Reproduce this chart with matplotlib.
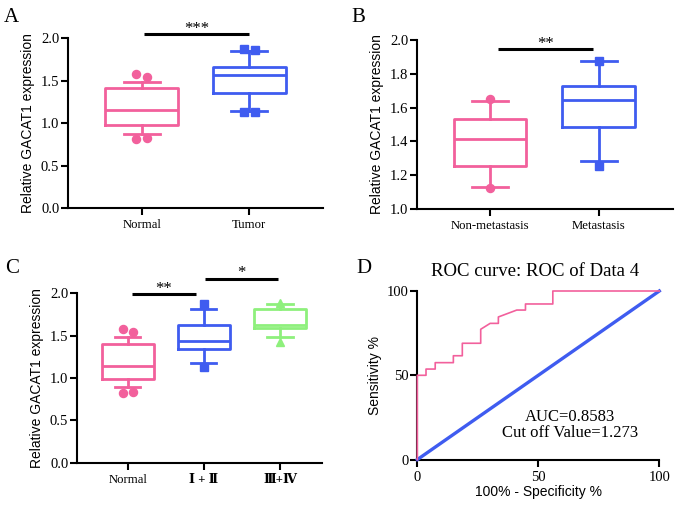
import matplotlib
matplotlib.use("Agg")
import matplotlib.pyplot as plt
import numpy as np

# ---------------- data ----------------
a_groups = ["Normal", "Tumor"]
a_whislo = [0.88, 1.15]
a_q1 = [0.98, 1.355]
a_med = [1.153, 1.565]
a_q3 = [1.41, 1.66]
a_whishi = [1.49, 1.845]
a_fliers = [[1.58, 1.54, 0.82, 0.83], [1.87, 1.86, 1.13, 1.13]]

b_groups = ["Non-metastasis", "Metastasis"]
b_whislo = [1.132, 1.284]
b_q1 = [1.256, 1.485]
b_med = [1.416, 1.643]
b_q3 = [1.533, 1.728]
b_whishi = [1.64, 1.874]
b_fliers = [[1.651, 1.127], [1.875, 1.256]]

c_groups = ["Normal", "\u2160 + \u2161", "\u2162+\u2163"]
c_whislo = [0.89, 1.18, 1.48]
c_q1 = [0.985, 1.34, 1.594]
c_med = [1.145, 1.44, 1.63]
c_q3 = [1.40, 1.62, 1.815]
c_whishi = [1.48, 1.81, 1.874]
c_fliers = [[1.58, 1.54, 0.82, 0.83], [1.87, 1.126], [1.88, 1.43]]

roc_fpr = [0, 0, 3.6, 3.6, 7.4, 7.4, 14.9, 14.9, 18.6, 18.6, 26.2, 26.2, 30.1,
           33.5, 33.5, 41.1, 44.7, 44.7, 56.0, 56.0, 100]
roc_tpr = [0, 50, 50, 53.7, 53.7, 57.5, 57.5, 61.6, 61.6, 69.0, 69.0, 77.3, 80.8,
           80.8, 84.6, 88.7, 88.7, 92.3, 92.3, 100, 100]

PINK = "#f2609c"
BLUE = "#3f5cf0"
GREEN = "#8ef07c"
SERIF = ["Liberation Serif", "DejaVu Serif", "Noto Sans CJK SC"]
SANS = ["Liberation Sans", "DejaVu Sans"]

W, H = 677, 507
fig = plt.figure(figsize=(W / 100, H / 100), dpi=100)


def add_ax(left, right, top, bottom):
    return fig.add_axes([left / W, 1 - bottom / H, (right - left) / W, (bottom - top) / H])


def style(ax):
    for s in ["top", "right"]:
        ax.spines[s].set_visible(False)
    for s in ["left", "bottom"]:
        ax.spines[s].set_linewidth(1.5)
    ax.tick_params(axis="both", width=1.5, length=5, direction="out")
    ax.tick_params(axis="y", labelsize=10.5, pad=1.5)
    ax.tick_params(axis="x", labelsize=9.2, pad=3)
    for lab in ax.get_xticklabels() + ax.get_yticklabels():
        lab.set_family(SERIF)


def boxes(ax, groups, wl, q1, med, q3, wh, fliers, colors, markers, width, capw, offs):
    stats = []
    for i in range(len(groups)):
        stats.append(dict(whislo=wl[i], q1=q1[i], med=med[i], q3=q3[i], whishi=wh[i], fliers=[]))
    pos = np.arange(1, len(groups) + 1)
    bp = ax.bxp(stats, positions=pos, widths=width, showfliers=False, patch_artist=False,
                capwidths=capw, manage_ticks=False)
    for i in range(len(groups)):
        c = colors[i]
        for k in ["boxes", "medians"]:
            bp[k][i].set_color(c)
            bp[k][i].set_linewidth(2)
        for art in bp["whiskers"][2 * i:2 * i + 2] + bp["caps"][2 * i:2 * i + 2]:
            art.set_color(c)
            art.set_linewidth(2)
        f = fliers[i]
        if len(f) == 4:
            xs = [pos[i] - offs, pos[i] + offs, pos[i] - offs, pos[i] + offs]
        else:
            xs = [pos[i]] * len(f)
        ax.plot(xs, f, linestyle="none", marker=markers[i], color=c, markersize=5.8,
                clip_on=False, zorder=5)
    ax.set_xticks(pos)
    ax.set_xticklabels(groups)


def sig(ax, x0, x1, y, txt, dy):
    ax.plot([x0, x1], [y, y], color="black", lw=2.2, clip_on=False, solid_capstyle="butt")
    ax.text((x0 + x1) / 2, y + dy, txt, ha="center", va="bottom", fontsize=12,
            family=SERIF)


# ---------------- Panel A ----------------
axA = add_ax(68.3, 323.3, 38.3, 208.3)
boxes(axA, a_groups, a_whislo, a_q1, a_med, a_q3, a_whishi, a_fliers,
      [PINK, BLUE], ["o", "s"], 0.683, 0.335, 0.05)
axA.set_xlim(0.318, 2.688)
axA.set_ylim(0, 2.0)
axA.set_yticks([0, 0.5, 1.0, 1.5, 2.0])
axA.set_yticklabels(["0.0", "0.5", "1.0", "1.5", "2.0"])
axA.set_ylabel("Relative GACAT1 expression", fontsize=10, family=SANS, labelpad=4)
style(axA)
sig(axA, 1.02, 2.0, 2.05, "***", -0.03)

# ---------------- Panel B ----------------
axB = add_ax(417.3, 673.3, 40, 209)
boxes(axB, b_groups, b_whislo, b_q1, b_med, b_q3, b_whishi, b_fliers,
      [PINK, BLUE], ["o", "s"], 0.67, 0.33, 0.05)
axB.set_xlim(0.331, 2.686)
axB.set_ylim(1.0, 2.0)
axB.set_yticks([1.0, 1.2, 1.4, 1.6, 1.8, 2.0])
axB.set_yticklabels(["1.0", "1.2", "1.4", "1.6", "1.8", "2.0"])
axB.set_ylabel("Relative GACAT1 expression", fontsize=10, family=SANS, labelpad=4)
style(axB)
sig(axB, 1.07, 1.95, 1.945, "**", -0.015)

# ---------------- Panel C ----------------
axC = add_ax(77.3, 321.7, 293.3, 462.7)
boxes(axC, c_groups, c_whislo, c_q1, c_med, c_q3, c_whishi, c_fliers,
      [PINK, BLUE, GREEN], ["o", "s", "^"], 0.68, 0.33, 0.066)
axC.set_xlim(0.338, 3.548)
axC.set_ylim(0, 2.0)
axC.set_yticks([0, 0.5, 1.0, 1.5, 2.0])
axC.set_yticklabels(["0.0", "0.5", "1.0", "1.5", "2.0"])
axC.set_ylabel("Relative GACAT1 expression", fontsize=10, family=SANS, labelpad=4)
style(axC)
for lab in axC.get_xticklabels()[1:]:
    lab.set_fontweight("bold")
sig(axC, 1.05, 1.9, 1.99, "**", -0.03)
sig(axC, 2.01, 2.97, 2.17, "*", -0.03)

# ---------------- Panel D ----------------
axD = add_ax(417.3, 659.3, 291, 459.6)
axD.plot([0, 100], [0, 100], color=BLUE, lw=2.4, clip_on=False, zorder=3)
axD.plot(roc_fpr, roc_tpr, color=PINK, lw=1.2, clip_on=False, zorder=4)
axD.set_xlim(0, 100)
axD.set_ylim(0, 100)
axD.set_xticks([0, 50, 100])
axD.set_yticks([0, 50, 100])
style(axD)
axD.tick_params(axis="x", labelsize=10.5)
axD.set_xlabel("100% - Specificity %", fontsize=10, family=SANS, labelpad=1)
axD.set_ylabel("Sensitivity %", fontsize=10, family=SANS, labelpad=3)
axD.text(63, 25, "AUC=0.8583", ha="center", va="center", fontsize=12, family=SERIF)
axD.text(63, 15.5, "Cut off Value=1.273", ha="center", va="center", fontsize=12, family=SERIF)
fig.text(534.7 / W, 1 - 271.7 / H, "ROC curve: ROC of Data 4", ha="center", va="center",
         fontsize=13.5, family=SERIF)

# ---------------- panel letters ----------------
for x, y, t in [(4, 8, "A"), (351, 8, "B"), (5, 259, "C"), (356, 259, "D")]:
    fig.text(x / W, 1 - y / H, t, ha="left", va="top", fontsize=15, family=SERIF)

fig.savefig("out.png", dpi=100)
